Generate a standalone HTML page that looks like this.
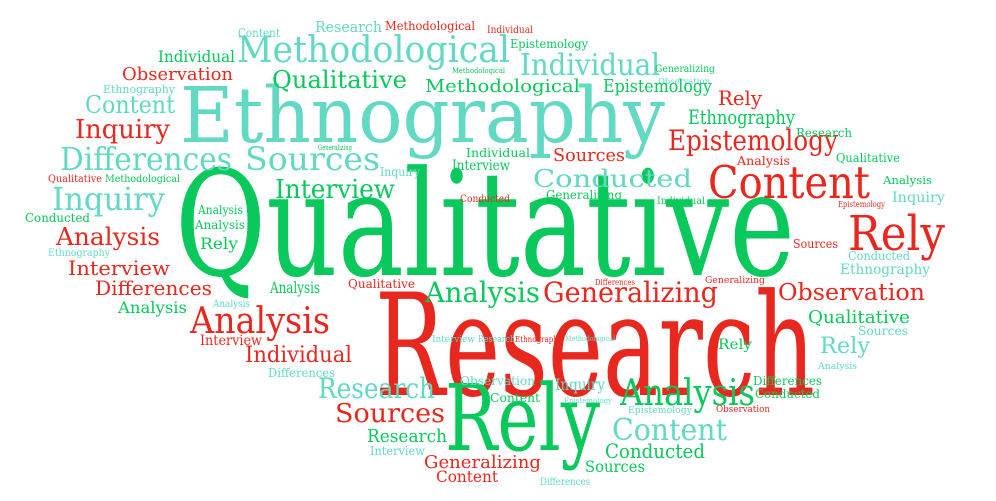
<!DOCTYPE html>
<html><head><meta charset="utf-8"><style>
html,body{margin:0;padding:0;background:#fff;width:996px;height:501px;overflow:hidden}
svg{display:block}
text{font-family:"DejaVu Serif","Liberation Serif",serif}
</style></head>
<body>
<svg id="cloud" width="996" height="501" viewBox="0 0 996 501"></svg>
<script>
const T="#62d9c3",G="#0ac95c",R="#e8281e";
// word, left x, right x, baseline y, font size, colour
const words=[
["Ethnography",180,665,142,77,T],
["Qualitative",175,795,275,146,G],
["Research",375,815,395,142,R],
["Rely",445,600,450,92,G],
["Methodological",237,510,62,36,T],
["Content",708,870,198,45,R],
["Rely",848,945,250,48,R],
["Generalizing",543,718,302,28,R],
["Observation",778,925,300,23,R],
["Analysis",190,330,333,36,R],
["Analysis",620,755,405,36,G],
["Analysis",425,540,302,28,G],
["Sources",245,380,170,32,T],
["Differences",60,232,170,32,T],
["Inquiry",52,165,210,32,T],
["Interview",275,395,198,26,G],
["Qualitative",272,407,88,24,G],
["Individual",520,660,75,30,T],
["Epistemology",668,838,150,28,R],
["Ethnography",688,795,124,20,G],
["Rely",718,762,105,20,R],
["Conducted",533,692,187,24,T],
["Content",612,727,440,30,T],
["Conducted",605,705,458,20,G],
["Research",318,435,398,28,T],
["Sources",335,445,422,26,R],
["Research",367,447,442,18,G],
["Interview",370,425,455,12,T],
["Generalizing",424,541,468,18,R],
["Content",436,498,482,16,R],
["Differences",540,590,485,10,T],
["Sources",585,645,472,16,G],
["Individual",245,352,362,22,R],
["Interview",200,262,345,14,R],
["Differences",268,335,377,12,T],
["Analysis",118,187,313,16,G],
["Analysis",213,250,307,10,T],
["Differences",95,212,295,20,R],
["Interview",68,170,275,20,R],
["Analysis",56,160,245,24,R],
["Ethnography",48,110,256,10,T],
["Conducted",25,90,222,12,G],
["Qualitative",48,102,182,10,R],
["Methodological",105,180,182,10,G],
["Content",85,175,113,24,T],
["Inquiry",75,170,138,26,R],
["Ethnography",103,175,93,11,T],
["Observation",122,233,80,18,R],
["Individual",158,235,62,16,G],
["Content",238,280,37,12,T],
["Research",315,382,32,15,T],
["Methodological",385,475,30,12,R],
["Individual",487,533,33,10,R],
["Epistemology",510,588,48,12,G],
["Methodological",452,505,73,7,G],
["Generalizing",655,715,72,10,G],
["Observation",658,710,84,8,T],
["Methodological",425,580,92,18,G],
["Epistemology",603,712,92,18,G],
["Research",796,852,137,12,G],
["Analysis",737,790,165,12,R],
["Qualitative",836,900,162,12,G],
["Analysis",883,932,184,11,G],
["Inquiry",892,945,202,14,T],
["Epistemology",838,885,207,8,R],
["Individual",657,705,204,10,G],
["Generalizing",546,622,199,12,G],
["Conducted",460,510,202,10,R],
["Interview",452,510,170,14,G],
["Individual",466,530,157,12,G],
["Sources",553,625,161,18,R],
["Inquiry",380,420,176,12,T],
["Generalizing",318,352,150,7,G],
["Analysis",198,243,214,12,G],
["Analysis",195,245,229,12,G],
["Rely",200,238,249,16,G],
["Sources",793,838,248,12,R],
["Conducted",848,910,260,12,T],
["Ethnography",840,930,274,14,T],
["Analysis",270,320,293,16,G],
["Qualitative",348,415,288,12,R],
["Differences",595,635,285,8,R],
["Generalizing",705,765,283,9,R],
["Qualitative",808,910,323,18,G],
["Sources",858,908,335,12,T],
["Rely",820,870,353,22,T],
["Rely",718,752,349,14,G],
["Analysis",818,857,369,9,T],
["Differences",753,822,385,12,G],
["Conducted",755,820,398,12,G],
["Observation",716,770,412,9,R],
["Epistemology",628,692,413,9,T],
["Interview",432,475,342,9,T],
["Research",478,515,342,9,T],
["Ethnography",515,562,342,8,R],
["Methodological",565,615,341,7,T],
["Observation",460,535,385,12,T],
["Inquiry",555,605,390,16,T],
["Content",490,540,402,12,G],
["Epistemology",564,612,403,7,T]
];
const svg=document.getElementById("cloud");
const NS="http://www.w3.org/2000/svg";
words.forEach(w=>{
  const t=document.createElementNS(NS,"text");
  
  
  t.setAttribute("x",w[1]);
  t.setAttribute("y",w[3]);
  t.setAttribute("font-size",w[4]);
  t.setAttribute("fill",w[5]);
  t.setAttribute("textLength",w[2]-w[1]);
  t.setAttribute("lengthAdjust","spacingAndGlyphs");
  t.textContent=w[0];
  svg.appendChild(t);
});
</script>
</body></html>
